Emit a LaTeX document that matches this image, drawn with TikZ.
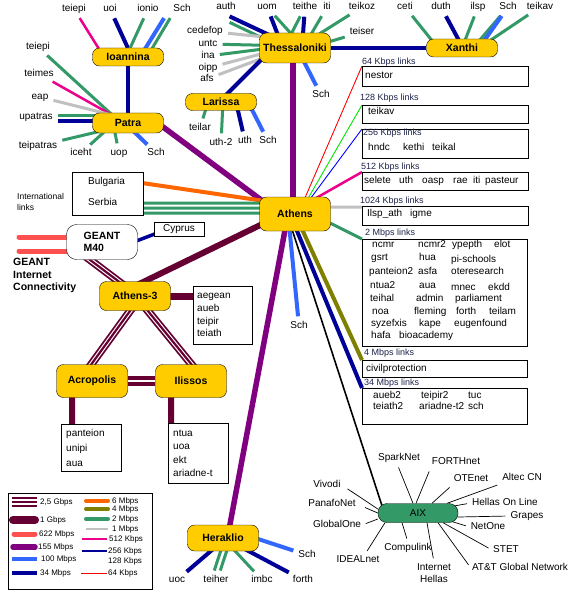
\documentclass[tikz,border=0pt]{standalone}
\usepackage{fontspec}
\setmainfont{Liberation Sans}
\usepackage{xcolor}
\usetikzlibrary{positioning}
\usetikzlibrary{calc}
\usetikzlibrary{backgrounds}

\definecolor{gold}{RGB}{255,204,0}
\definecolor{maroon}{RGB}{102,0,51}
\definecolor{purp}{RGB}{128,0,128}
\definecolor{red622}{RGB}{255,80,80}
\definecolor{blue100}{RGB}{51,102,255}
\definecolor{navy}{RGB}{0,0,153}
\definecolor{orange6}{RGB}{255,102,0}
\definecolor{olive4}{RGB}{128,128,0}
\definecolor{green2}{RGB}{51,153,102}
\definecolor{gray1}{RGB}{192,192,192}
\definecolor{green128}{RGB}{0,230,0}
\definecolor{speedtxt}{RGB}{30,35,75}

\begin{document}
\begin{tikzpicture}[x=1pt, y=-1pt]
% tikz settings
\tikzstyle{site} = [rectangle, draw, fill=gold, rounded corners=7pt, minimum width=71pt, inner sep=1pt, font=\fontsize{10.5}{12}\selectfont\bfseries]
\tikzstyle{lbl} = [inner sep=1pt, text height=7pt, text depth=2pt, font=\fontsize{10}{12}\selectfont]
\tikzstyle{word} = [lbl, anchor=west, inner sep=0pt]
\tikzstyle{box} = [draw, fill=white, rectangle, inner sep=0pt]
\tikzstyle{speed} = [anchor=west, inner sep=0pt, text=speedtxt, font=\fontsize{9}{10}\selectfont]
\tikzstyle{legtxt} = [anchor=west, inner sep=0pt, font=\fontsize{8}{9}\selectfont]
\tikzstyle{spoke} = [shorten >=4pt]
\tikzstyle{l25g} = [draw=maroon, line width=2.2pt, preaction={draw=maroon, line width=8pt}, preaction={draw=white, line width=4.4pt}]
\tikzstyle{l25leg} = [draw=maroon, line width=2pt, preaction={draw=maroon, line width=10pt}, preaction={draw=white, line width=6pt}]
\tikzstyle{l2g2} = [draw=maroon, line width=10pt, postaction={draw=white, line width=1.5pt}]
\tikzstyle{l1g} = [draw=maroon, line width=6pt]
\tikzstyle{l622} = [draw=red622, line width=5pt, line cap=round]
\tikzstyle{l155} = [draw=purp, line width=5.5pt]
\tikzstyle{l100} = [draw=blue100, line width=4pt]
\tikzstyle{l34} = [draw=navy, line width=4pt]
\tikzstyle{l6} = [draw=orange6, line width=4pt]
\tikzstyle{l4} = [draw=olive4, line width=4pt]
\tikzstyle{l2} = [draw=green2, line width=3pt]
\tikzstyle{l1m} = [draw=gray1, line width=3pt]
\tikzstyle{l512} = [draw=magenta, line width=2.5pt]
\tikzstyle{l256} = [draw=blue, line width=0.9pt]
\tikzstyle{l128} = [draw=green128, line width=0.9pt]
\tikzstyle{l64} = [draw=red, line width=0.9pt]
\tikzstyle{lblack} = [draw=black, line width=1.6pt]
\tikzstyle{laix} = [draw=black, line width=0.7pt]

\useasboundingbox (0,0) rectangle (573,591);

% the tikz picture
\node [site, minimum height=18pt] (ioannina) at (128,57) {Ioannina};
\node [site, minimum height=20pt] (patra) at (128,123) {Patra};
\node [site, minimum height=30pt] (thess) at (295,48) {Thessaloniki};
\node [site, minimum height=17pt] (larissa) at (221,102) {Larissa};
\node [site, minimum height=18pt] (xanthi) at (462,48) {Xanthi};
\node [site, minimum height=34pt] (athens) at (295,214) {Athens};
\node [site, minimum height=29pt] (athensiii) at (135,296) {Athens-3};
\node [site, minimum height=33pt] (acropolis) at (92,381) {Acropolis};
\node [site, minimum height=33pt] (ilissos) at (191,381) {Ilissos};
\node [site, minimum height=26pt] (heraklio) at (223,538) {Heraklio};
\node [site, fill=green2, minimum width=80pt, minimum height=19pt, rounded corners=9pt, font=\fontsize{10}{12}\selectfont] (aix) at (418,513) {AIX};
\node [site, fill=white, minimum height=35pt, rounded corners=10pt, align=left] (geant) at (102,242) {GEANT\\M40};

% Ioannina and Patra
\node [lbl] (ioteiepi) at (74,9) {teiepi};
\node [lbl] (iouoi) at (110,9) {uoi};
\node [lbl] (ioionio) at (148,9) {ionio};
\node [lbl] (iosch) at (182,9) {Sch};
\node [lbl] (pateiepi) at (38,47) {teiepi};
\node [lbl] (pateimes) at (39,74) {teimes};
\node [lbl] (paeap) at (40,97) {eap};
\node [lbl] (paupatras) at (36,117) {upatras};
\node [lbl] (pateipatras) at (38,146) {teipatras};
\node [lbl] (paiceht) at (81,153) {iceht};
\node [lbl] (pauop) at (119,153) {uop};
\node [lbl] (pasch) at (156,153) {Sch};

% Thessaloniki and Larissa
\node [lbl] (thauth) at (226,7) {auth};
\node [lbl] (thuom) at (267,7) {uom};
\node [lbl] (ththeithe) at (305,7) {teithe};
\node [lbl] (thiti) at (327,7) {iti};
\node [lbl] (thteikoz) at (362,7) {teikoz};
\node [lbl] (thteiser) at (362,32) {teiser};
\node [lbl] (thcedefop) at (205,31) {cedefop};
\node [lbl] (thuntc) at (208,44) {untc};
\node [lbl] (thina) at (208,56) {ina};
\node [lbl] (thoipp) at (208,68) {oipp};
\node [lbl] (thafs) at (207,79) {afs};
\node [lbl] (thsch) at (321,95) {Sch};
\node [lbl] (lateilar) at (200,128) {teilar};
\node [lbl] (lauth2) at (221,143) {uth-2};
\node [lbl] (lauth) at (245,141) {uth};
\node [lbl] (lasch) at (268,141) {Sch};

% Xanthi
\node [lbl] (xaceti) at (405,7) {ceti};
\node [lbl] (xaduth) at (441,7) {duth};
\node [lbl] (xailsp) at (478,7) {ilsp};
\node [lbl] (xasch) at (508,7) {Sch};
\node [lbl] (xateikav) at (540,7) {teikav};

% Heraklio
\node [lbl] (hruoc) at (177,580) {uoc};
\node [lbl] (hrteiher) at (216,580) {teiher};
\node [lbl] (hrimbc) at (262,580) {imbc};
\node [lbl] (hrforth) at (303,580) {forth};
\node [lbl] (hrsch) at (307,555) {Sch};
\node [lbl] (athsch) at (299,326) {Sch};

% AIX peers
\node [lbl] (sparknet) at (399,458) {SparkNet};
\node [lbl] (forthnet) at (456,462) {FORTHnet};
\node [lbl] (otenet) at (471,479) {OTEnet};
\node [lbl] (altec) at (522,478) {Altec CN};
\node [lbl] (hol) at (505,503) {Hellas On Line};
\node [lbl] (grapes) at (527,516) {Grapes};
\node [lbl] (netone) at (488,527) {NetOne};
\node [lbl] (stet) at (506,550) {STET};
\node [lbl] (att) at (520,568) {AT\&T Global Network};
\node [lbl] (inhellas) at (434,568) {Internet};
\node [lbl] (inhellasb) at (434,580) {Hellas};
\node [lbl] (compulink) at (408,548) {Compulink};
\node [lbl] (idealnet) at (358,560) {IDEALnet};
\node [lbl] (globalone) at (337,525) {GlobalOne};
\node [lbl] (panafonet) at (332,504) {PanafoNet};
\node [lbl] (vivodi) at (327,485) {Vivodi};

% international links and GEANT
\node [box, minimum width=71pt, minimum height=43pt, anchor=north west] (intl) at (72,172) {};
\node [lbl, anchor=west] (bulgaria) at (87,182) {Bulgaria};
\node [lbl, anchor=west] (serbia) at (87,203) {Serbia};
\node [anchor=west, inner sep=0pt, align=left, font=\fontsize{8.5}{11}\selectfont] (intllinks) at (17,202) {International\\links};
\node [box, minimum width=50pt, minimum height=14pt, font=\fontsize{10}{12}\selectfont] (cyprus) at (179,229) {Cyprus};
\node [anchor=north west, inner sep=0pt, align=left, font=\fontsize{10.5}{12.5}\selectfont\bfseries] (geantnet) at (13,258) {GEANT\\Internet\\Connectivity};
\coordinate (gin1) at (19,237);
\coordinate (gin2) at (19,251);

% Athens-3 area customer boxes
\node [box, anchor=north west, minimum height=58pt, text width=51pt, inner xsep=4pt, align=left, font=\fontsize{10}{12.7}\selectfont] (aegbox) at (193,286) {aegean\\aueb\\teipir\\teiath};
\node [box, anchor=north west, minimum height=47pt, text width=50pt, inner xsep=5pt, align=left, font=\fontsize{10}{15}\selectfont] (acrobox) at (61,424) {panteion\\unipi\\aua};
\node [box, anchor=north west, minimum height=60pt, text width=50pt, inner xsep=5pt, align=left, font=\fontsize{10}{13.3}\selectfont] (ilibox) at (168,423) {ntua\\uoa\\ekt\\ariadne-t};

% Athens link boxes
\node [box, anchor=north west, minimum width=166pt, minimum height=20pt] (box64) at (362,66) {};
\node [box, anchor=north west, minimum width=166pt, minimum height=18pt] (box128) at (362,105) {};
\node [box, anchor=north west, minimum width=166pt, minimum height=29pt] (box256) at (362,129) {};
\node [box, anchor=north west, minimum width=166pt, minimum height=18pt] (box512) at (362,172) {};
\node [box, anchor=north west, minimum width=166pt, minimum height=19pt] (box1024) at (362,206) {};
\node [box, anchor=north west, minimum width=165pt, minimum height=107pt] (box2m) at (362,239) {};
\node [box, anchor=north west, minimum width=165pt, minimum height=17pt] (box4m) at (362,360) {};
\node [box, anchor=north west, minimum width=165pt, minimum height=36pt] (box34) at (362,388) {};
\node [speed] (s64) at (362,62) {64 Kbps links};
\node [speed] (s128) at (360,98) {128 Kbps links};
\node [speed] (s256) at (363,133) {256 Kbps links};
\node [speed] (s512) at (361,167) {512 Kbps links};
\node [speed] (s1024) at (360,201) {1024 Kbps links};
\node [speed] (s2m) at (365,233) {2 Mbps links};
\node [speed] (s4m) at (364,353) {4 Mbps links};
\node [speed] (s34m) at (364,383) {34 Mbps links};
\node [word] (nestor) at (365,76) {nestor};
\node [word] (teikav) at (368,112) {teikav};
\foreach \w/\x [count=\i] in {hndc/368, kethi/403, teikal/432}
  \node [word] (k256\i) at (\x,148) {\w};
\foreach \w/\x [count=\i] in {selete/364, uth/399, oasp/422, rae/453, iti/473, pasteur/485}
  \node [word] (k512\i) at (\x,181) {\w};
\foreach \w/\x [count=\i] in {Ilsp\_ath/367, igme/410}
  \node [word] (k1024\i) at (\x,214) {\w};
\foreach \w/\x/\y [count=\i] in {ncmr/372/245, ncmr2/418/245, ypepth/452/245, elot/494/245,
    gsrt/371/258, hua/419/258, pi-schools/451/260,
    panteion2/369/272, asfa/418/272, oteresearch/451/272,
    ntua2/370/286, aua/419/286, mnec/451/288, ekdd/488/288,
    teihal/370/299, admin/416/299, parliament/455/299,
    noa/372/312, fleming/414/312, forth/456/312, teilam/489/312,
    syzefxis/371/324, kape/419/324, eugenfound/454/324,
    hafa/371/336, bioacademy/399/336}
  \node [word] (m2\i) at (\x,\y) {\w};
\node [word] (civil) at (366,369) {civilprotection};
\foreach \w/\x/\y [count=\i] in {aueb2/373/396, teipir2/421/396, tuc/468/396,
    teiath2/373/407, ariadne-t2/419/407, sch/468/407}
  \node [word] (m34\i) at (\x,\y) {\w};

% legend
\node [box, anchor=north west, minimum width=144pt, minimum height=96pt] (legend) at (8,493) {};
\node [legtxt] (leg25) at (40,502) {2,5 Gbps};
\node [legtxt] (leg1g) at (40,520) {1 Gbps};
\node [legtxt] (leg622) at (39,534) {622 Mbps};
\node [legtxt] (leg155) at (38,547) {155 Mbps};
\node [legtxt] (leg100) at (41,559) {100 Mbps};
\node [legtxt] (leg34) at (40,573) {34 Mbps};
\node [legtxt] (leg6) at (112,501) {6 Mbps};
\node [legtxt] (leg4) at (112,509) {4 Mbps};
\node [legtxt] (leg2) at (112,519) {2 Mbps};
\node [legtxt] (leg1) at (112,529) {1 Mbps};
\node [legtxt] (leg512) at (109,539) {512 Kbps};
\node [legtxt] (leg256) at (108,551) {256 Kbps};
\node [legtxt] (leg128) at (108,561) {128 Kbps};
\node [legtxt] (leg64) at (108,573) {64 Kbps};
\draw [l25leg] ([xshift=-28pt]leg25.west) -- ([xshift=-3pt]leg25.west);
\draw [l1g, line width=8pt, line cap=round] ([xshift=-27pt]leg1g.west) -- ([xshift=-5pt]leg1g.west);
\draw [l622] ([xshift=-25pt]leg622.west) -- ([xshift=-4pt]leg622.west);
\draw [l155, line cap=round] ([xshift=-25pt]leg155.west) -- ([xshift=-3pt]leg155.west);
\draw [l100] ([xshift=-29pt]leg100.west) -- ([xshift=-4pt]leg100.west);
\draw [l34] ([xshift=-28pt]leg34.west) -- ([xshift=-3pt]leg34.west);
\draw [l6, line cap=round] ([xshift=-26pt]leg6.west) -- ([xshift=-4pt]leg6.west);
\draw [l4, line cap=round] ([xshift=-26pt]leg4.west) -- ([xshift=-4pt]leg4.west);
\draw [l2, line width=4pt, line cap=round] ([xshift=-26pt]leg2.west) -- ([xshift=-4pt]leg2.west);
\draw [l1m, line width=2.5pt] ([xshift=-26pt]leg1.west) -- ([xshift=-4pt]leg1.west);
\draw [l512] ([xshift=-27pt]leg512.west) -- ([xshift=-2pt]leg512.west);
\draw [navy, line width=1.5pt] ([xshift=-26pt]leg256.west) -- ([xshift=-1pt]leg256.west);
\draw [l64] ([xshift=-27pt]leg64.west) -- ([xshift=-1pt]leg64.west);

\begin{pgfonlayer}{background}
\fill [white] (0,0) rectangle (573,591);
% Ioannina links
\draw [l512, spoke] ([xshift=-24pt]ioannina.center) -- (ioteiepi);
\draw [l34, spoke] ([xshift=4pt]ioannina.center) -- (iouoi);
\draw [l2, spoke] ([xshift=-2pt]ioannina.center) -- (ioionio);
\draw [l100, spoke] ([xshift=12pt]ioannina.center) -- ([xshift=-6pt]iosch.south west);
\draw [l2, spoke] ([xshift=19pt]ioannina.center) -- (iosch.south west);
\draw [l34] (ioannina) -- (patra);
% Patra links
\draw [l2, spoke] ([xshift=-7pt]patra.center) -- (pateiepi);
\draw [l512, spoke] ([xshift=-2pt]patra.center) -- (pateimes);
\draw [l1m, spoke] ([xshift=16pt]patra.center) -- (paeap);
\draw [l2, spoke] ([yshift=7pt]patra.center) -- ([yshift=1pt]paupatras.east);
\draw [l34, spoke] ([yshift=2pt]patra.center) -- ([yshift=-4pt]paupatras.east);
\draw [l2, spoke] ([xshift=7pt]patra.center) -- (pateipatras);
\draw [l2, spoke] ([xshift=-14pt]patra.center) -- (paiceht);
\draw [l2, spoke] ([xshift=-15pt]patra.center) -- (pauop);
\draw [l100, spoke] ([xshift=-3pt]patra.center) -- (pasch);
\draw [l155] ([xshift=-6pt]patra.east) -- ([xshift=-15pt]athens.center);
% Thessaloniki links
\draw [l34, spoke] ([xshift=-15pt,yshift=8pt]thess.center) -- ([yshift=-2pt]thauth.south);
\draw [l2, spoke] ([xshift=-20pt,yshift=4pt]thess.center) -- ([yshift=-8pt]thauth.south);
\draw [l34, spoke] ([xshift=-12pt]thess.center) -- (thuom);
\draw [l2, spoke] ([xshift=9pt]thess.center) -- (thuom);
\draw [l2, spoke] ([xshift=-11pt]thess.center) -- (ththeithe);
\draw [l34, spoke] ([xshift=7pt]thess.center) -- (ththeithe);
\draw [l2, spoke] ([xshift=8pt]thess.center) -- (thiti);
\draw [l2, spoke] ([xshift=2pt]thess.center) -- (thteikoz);
\draw [l2, spoke] ([xshift=13pt]thess.center) -- (thteiser);
\draw [l1m, spoke] ([yshift=8pt]thess.center) -- (thcedefop);
\draw [l2, spoke] ([yshift=2pt]thess.center) -- (thuntc);
\draw [l2, spoke] ([yshift=3pt]thess.center) -- (thina);
\draw [l1m, spoke] ([yshift=3pt]thess.center) -- (thoipp);
\draw [l1m, spoke] ([yshift=2pt]thess.center) -- (thafs);
\draw [l100, spoke] ([xshift=2pt]thess.center) -- (thsch);
\draw [l34] ([xshift=-22pt]thess.center) -- ([xshift=-2pt]larissa.center);
\draw [l34] (thess) -- (xanthi);
\draw [l155] ([xshift=-2pt]thess.center) -- ([xshift=-2pt]athens.center);
% Larissa links
\draw [l2, spoke] ([xshift=-13pt]larissa.center) -- (lateilar);
\draw [l2, spoke] ([xshift=2pt]larissa.center) -- (lauth2);
\draw [l34, spoke] ([xshift=15pt]larissa.center) -- (lauth);
\draw [l100, spoke] ([xshift=27pt]larissa.center) -- (lasch);
% Xanthi links
\draw [l2, spoke] ([xshift=-24pt]xanthi.center) -- (xaceti);
\draw [l34, spoke] ([xshift=1pt]xanthi.center) -- (xaduth);
\draw [l2, spoke] (xanthi.center) -- (xailsp);
\draw [l2, spoke] ([xshift=11pt]xanthi.center) -- (xasch);
\draw [l100, spoke] ([xshift=17pt]xanthi.center) -- (xasch);
\draw [l2, spoke] ([xshift=17pt]xanthi.center) -- (xateikav);
% Heraklio links
\draw [l34, spoke] ([xshift=3pt]heraklio.center) -- (hruoc);
\draw [l2, spoke] ([xshift=2pt]heraklio.center) -- ([xshift=-3pt]hrteiher.north);
\draw [l2, spoke] ([xshift=8pt]heraklio.center) -- ([xshift=3pt]hrteiher.north);
\draw [l2, spoke] (heraklio.center) -- (hrimbc);
\draw [l34, spoke] ([xshift=1pt]heraklio.center) -- (hrforth);
\draw [l100, spoke] ([xshift=32pt]heraklio.center) -- (hrsch);
% Athens links
\draw [l6] ([yshift=10.5pt]intl.east) -- ([xshift=-10pt,yshift=10pt]athens.center);
\draw [l2] ([yshift=-9.5pt]intl.east) -- ([yshift=11pt]athens.center);
\draw [l2] ([yshift=-14.5pt]intl.east) -- ([yshift=6pt]athens.center);
\draw [l2] ([yshift=-19.5pt]intl.east) -- ([yshift=1pt]athens.center);
\draw [l1g] ([xshift=-10pt,yshift=1pt]athens.center) -- ([yshift=10pt]athensiii.center);
\draw [l155] ([xshift=-7pt]athens.center) -- ([xshift=5pt,yshift=3pt]heraklio.center);
\draw [l100, spoke] ([xshift=-7pt]athens.center) -- (athsch);
\draw [lblack] ([xshift=-8pt]athens.center) -- ([xshift=-33pt,yshift=-2pt]aix.center);
\draw [l34] ([xshift=-5pt]athens.center) -- (box34.north west);
\draw [l4] (athens.center) -- (box4m.north west);
\draw [l2] ([yshift=8.5pt]athens.center) -- (box2m.north west);
\draw [l1m] ([yshift=7pt]athens.center) -- ([yshift=8.5pt]box1024.west);
\draw [l512] ([xshift=-7pt]athens.center) -- (box512.north west);
\draw [l256] ([xshift=4pt]athens.center) -- (box256.north west);
\draw [l128] ([xshift=4pt]athens.center) -- (box128.north west);
\draw [l64] ([xshift=3pt]athens.center) -- (box64.north west);
% Athens-3 ring
\draw [l25g] ([xshift=-25pt,yshift=-8pt]geant.center) -- ([xshift=-5pt,yshift=6pt]athensiii.center);
\draw [l25g] ([xshift=3pt,yshift=-4pt]athensiii.center) -- ([xshift=-7pt,yshift=8pt]acropolis.center);
\draw [l25g] ([xshift=4pt,yshift=-4pt]athensiii.center) -- ([xshift=7.5pt,yshift=8pt]ilissos.center);
\draw [l2g2] (acropolis) -- (ilissos);
\draw [l1g] ([xshift=-20pt]acropolis.center) -- ([xshift=-19pt]acrobox.north);
\draw [l1g] ([xshift=-20pt]ilissos.center) -- ([xshift=-27pt]ilibox.north);
\draw [l1g, line width=7pt] (athensiii.center) -- (athensiii.center -| aegbox.west);
\draw [l34, line width=3.5pt] ([xshift=-4pt]geant.east) -- ([xshift=3pt,yshift=3pt]cyprus.south west);
\draw [l622] (gin1) -- (gin1 -| geant.center);
\draw [l622] (gin2) -- (gin2 -| geant.center);
% AIX peers
\draw [laix, spoke] ([xshift=-5pt]aix.north) -- ([xshift=-2pt]sparknet.south);
\draw [laix, spoke] ([xshift=-2pt]aix.north) -- (forthnet.south west);
\draw [laix, spoke] ([xshift=14pt]aix.north) -- (otenet.south west);
\draw [laix, spoke] ([xshift=29pt]aix.north) -- (altec.south west);
\draw [laix, spoke] ([xshift=-6pt,yshift=-3pt]aix.north east) -- (hol.west);
\draw [laix, spoke] ([yshift=-4pt]aix.east) -- (grapes.west);
\draw [laix, spoke] ([xshift=-8pt,yshift=-8pt]aix.east) -- (netone.west);
\draw [laix, spoke] ([xshift=25pt]aix.south) -- (stet.west);
\draw [laix, spoke] ([xshift=20pt]aix.south) -- (att.west);
\draw [laix, spoke] ([xshift=9pt]aix.south) -- (inhellas.north);
\draw [laix, spoke] ([xshift=-16pt]aix.south) -- (compulink.north);
\draw [laix, spoke] ([xshift=-33pt]aix.south) -- ([xshift=7pt]idealnet.north);
\draw [laix, spoke] ([yshift=-6pt]aix.west) -- (globalone.east);
\draw [laix, shorten >=9pt] (aix.west) -- (panafonet.east);
\draw [laix, shorten >=7pt] ([yshift=4pt]aix.west) -- (vivodi.east);
\end{pgfonlayer}
\end{tikzpicture}
\end{document}
